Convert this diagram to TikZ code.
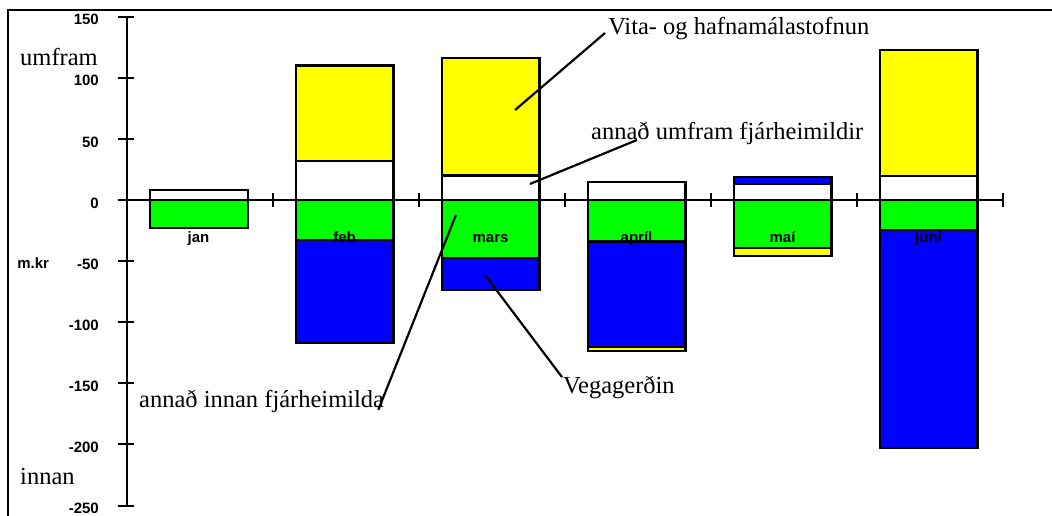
\documentclass[tikz,border=0pt]{standalone}
\usepackage{fontspec}
\setmainfont{Liberation Serif}
\setsansfont{Liberation Sans}
\definecolor{barY}{RGB}{255,255,0}
\definecolor{barG}{RGB}{0,255,0}
\definecolor{barB}{RGB}{0,0,255}
\begin{document}
\begin{tikzpicture}[x=146pt,y=1.2225pt,
   bar/.style={draw=black,line width=2.2pt},
   lbl/.style={inner sep=0pt,font=\fontsize{24.5}{29}\selectfont},
   num/.style={inner sep=0pt,font=\sffamily\bfseries\fontsize{15}{18}\selectfont},
   axis/.style={line width=2pt},
   leader/.style={line width=2.2pt}]
   \useasboundingbox (-0.870,-258.5) rectangle (6.336,163.6);
   \draw[line width=2.6pt] (-0.815,-258.5) -- (-0.815,155.4) -- (6.336,155.4);
   \draw[bar,fill=white] (0.158,0) rectangle (0.826,8);
   \draw[bar,fill=barG] (0.158,-23) rectangle (0.826,0);
   \draw[bar,fill=white] (1.158,0) rectangle (1.826,32);
   \draw[bar,fill=barY] (1.158,32) rectangle (1.826,110);
   \draw[bar,fill=barG] (1.158,-33) rectangle (1.826,0);
   \draw[bar,fill=barB] (1.158,-117) rectangle (1.826,-33);
   \draw[bar,fill=white] (2.158,0) rectangle (2.826,20);
   \draw[bar,fill=barY] (2.158,20) rectangle (2.826,116);
   \draw[bar,fill=barG] (2.158,-47.5) rectangle (2.826,0);
   \draw[bar,fill=barB] (2.158,-73.6) rectangle (2.826,-47.5);
   \draw[bar,fill=white] (3.158,0) rectangle (3.826,15);
   \draw[bar,fill=barG] (3.158,-34) rectangle (3.826,0);
   \draw[bar,fill=barB] (3.158,-120) rectangle (3.826,-34);
   \draw[bar,fill=barY] (3.158,-123.5) rectangle (3.826,-120);
   \draw[bar,fill=white] (4.158,0) rectangle (4.826,13);
   \draw[bar,fill=barB] (4.158,13) rectangle (4.826,18.5);
   \draw[bar,fill=barG] (4.158,-39) rectangle (4.826,0);
   \draw[bar,fill=barY] (4.158,-46) rectangle (4.826,-39);
   \draw[bar,fill=white] (5.158,0) rectangle (5.826,19.6);
   \draw[bar,fill=barY] (5.158,19.6) rectangle (5.826,122.7);
   \draw[bar,fill=barG] (5.158,-24.5) rectangle (5.826,0);
   \draw[bar,fill=barB] (5.158,-202.6) rectangle (5.826,-24.5);
   \draw[axis] (0,-250) -- (0,150);
   \draw[axis] (-0.062,0) -- (6,0);
   \foreach \v [count=\k] in {-250,-200,...,150} {
      \draw[axis] (-0.062,\v) -- (0.048,\v);
      \node[num,anchor=base east] (tick\k) at (-0.192,\v-6.7) {\v};
   }
   \foreach \i in {1,...,6}
      \draw[axis] (\i,-6.1) -- (\i,6.1);
   \node[num,anchor=base] (jan) at (0.49,-35) {jan};
   \node[num,anchor=base] (feb) at (1.49,-35) {feb};
   \node[num,anchor=base] (mars) at (2.49,-35) {mars};
   \node[num,anchor=base] (april) at (3.49,-35) {apríl};
   \node[num,anchor=base] (mai) at (4.49,-35) {maí};
   \node[num,anchor=base] (juni) at (5.49,-35) {júní};
   \node[num,anchor=base west] (mkr) at (-0.753,-56.4) {m.kr};
   \node[lbl,anchor=base west] (umfram) at (-0.733,110.4) {umfram};
   \node[lbl,anchor=base west] (innan) at (-0.733,-233.1) {innan};
   \node[lbl,anchor=base west] (vita) at (3.295,135) {Vita- og hafnamálastofnun};
   \node[lbl,anchor=base west] (umfr) at (3.178,49.1) {annað umfram fjárheimildir};
   \node[lbl,anchor=base west] (innfj) at (0.082,-170.1) {annað innan fjárheimilda};
   \node[lbl,anchor=base west] (vega) at (2.986,-158.7) {Vegagerðin};
   \coordinate (vitapt) at (2.658,73.6);
   \coordinate (umfrpt) at (2.760,13.1);
   \coordinate (innpt) at (2.253,-12.3);
   \coordinate (vegapt) at (2.452,-61.3);
   \draw[leader] ([xshift=-3pt,yshift=2pt]vita.base west) -- (vitapt);
   \draw[leader] ([xshift=46pt]umfr.base west) -- (umfrpt);
   \draw[leader] ([xshift=-6pt,yshift=-2pt]innfj.base east) -- (innpt);
   \draw[leader] ([xshift=-1pt,yshift=17pt]vega.base west) -- (vegapt);
\end{tikzpicture}
\end{document}
